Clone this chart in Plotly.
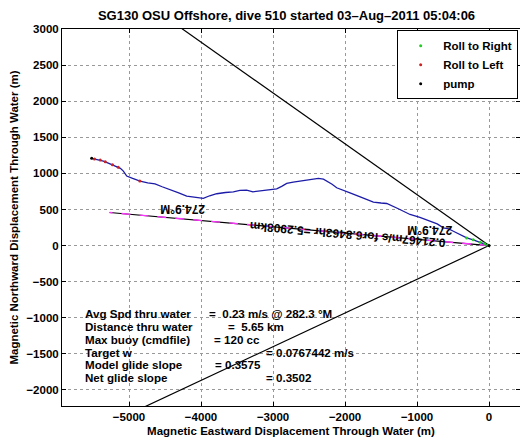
import plotly.graph_objects as go

# ---- data ----
track_x = [-5519, -5440, -5356, -5280, -5194, -5120, -5079, -5032, -4950, -4847, -4740, -4639, -4540, -4431,
           -4310, -4199, -4080, -3968, -3880, -3782, -3660, -3551, -3460, -3366, -3280, -3181, -3060, -2949,
           -2880, -2810, -2720, -2625, -2500, -2370, -2300, -2255, -2180, -2116, -2020, -1931, -1780, -1606,
           -1500, -1421, -1260, -1097, -960, -819, -720, -634, -560, -495, -400, -310, -220, -125, -50, 0]
track_y = [1208, 1195, 1171, 1140, 1102, 1070, 1032, 963, 930, 894, 870, 856, 815, 778,
           730, 685, 668, 653, 690, 718, 735, 745, 765, 769, 745, 755, 775, 787,
           820, 861, 880, 894, 905, 931, 920, 894, 850, 801, 770, 731, 670, 602,
           590, 583, 510, 431, 390, 338, 300, 245, 230, 199, 150, 106, 80, 46, 20, 0]

right_x = [-310, -220, -125, -60, -20]
right_y = [106, 80, 46, 25, 8]
left_x = [-5480, -5400, -5330, -5230, -5150, -4850]
left_y = [1200, 1185, 1160, 1120, 1085, 894]
pump_x = [-5519, 0]
pump_y = [1208, 0]

cone_up_x = [0, -4400]
cone_up_y = [0, 3100]
cone_dn_x = [0, -4900]
cone_dn_y = [0, -2288]

cur_x = [0, -5270]
cur_y = [0, 458]

x_ticks = [-5000, -4000, -3000, -2000, -1000, 0]
y_ticks = [-2000, -1500, -1000, -500, 0, 500, 1000, 1500, 2000, 2500, 3000]

title = "SG130 OSU Offshore, dive 510 started 03\u2013Aug\u20132011 05:04:06"
info_labels = ["Avg Spd thru water", "Distance thru water", "Max buoy (cmdfile)",
               "Target w", "Model glide slope", "Net glide slope"]
info_values = ["=\u00a0\u00a00.23 m/s @ 282.3 \u00b0M", "=\u00a0\u00a05.65 km", "= 120 cc",
               "= 0.0767442 m/s", "= 0.3575", "= 0.3502"]
info_label_x = -5646
info_value_x = [-3924, -3660, -3854, -3132, -3827, -3132]
info_y = [-944, -1121, -1297, -1474, -1650, -1826]

FONT = "Liberation Sans, Arial, sans-serif"

fig = go.Figure()
fig.add_trace(go.Scatter(x=cone_up_x, y=cone_up_y, mode="lines", line=dict(color="black", width=1.2),
                         showlegend=False, hoverinfo="skip"))
fig.add_trace(go.Scatter(x=cone_dn_x, y=cone_dn_y, mode="lines", line=dict(color="black", width=1.2),
                         showlegend=False, hoverinfo="skip"))
fig.add_trace(go.Scatter(x=cur_x, y=cur_y, mode="lines", line=dict(color="black", width=1.2),
                         showlegend=False, hoverinfo="skip"))
fig.add_trace(go.Scatter(x=cur_x, y=cur_y, mode="lines", line=dict(color="#ff33ff", width=1.4, dash="dash"),
                         showlegend=False, hoverinfo="skip"))
fig.add_trace(go.Scatter(x=track_x, y=track_y, mode="lines", line=dict(color="#1c1ca8", width=1.3),
                         showlegend=False))
fig.add_trace(go.Scatter(x=right_x, y=right_y, mode="markers", name="Roll to Right",
                         marker=dict(color="#22cc22", size=3)))
fig.add_trace(go.Scatter(x=left_x, y=left_y, mode="markers", name="Roll to Left",
                         marker=dict(color="#cc2222", size=3)))
fig.add_trace(go.Scatter(x=pump_x, y=pump_y, mode="markers", name="pump",
                         marker=dict(color="black", size=3)))

TXT = dict(size=12, color="black", family=FONT, weight="bold")
INFO = dict(size=11.6, color="black", family=FONT, weight="bold")
ann = []
ann.append(dict(x=-4250, y=514, text="274.9\u00b0M", textangle=180, showarrow=False, font=TXT))
ann.append(dict(x=-819, y=208, text="274.9\u00b0M", textangle=180, showarrow=False, font=TXT))
ann.append(dict(x=-1960, y=150, text="0.21467m/s for6.8463hr =5.2908km", textangle=-175, showarrow=False,
                font=TXT))
for lab, v, vx, yy in zip(info_labels, info_values, info_value_x, info_y):
    ann.append(dict(x=info_label_x, y=yy, text=lab, xanchor="left", showarrow=False, font=INFO))
    ann.append(dict(x=vx, y=yy, text=v, xanchor="left", showarrow=False, font=INFO))

axis_common = dict(showline=True, linecolor="black", linewidth=1, mirror="allticks",
                   ticks="inside", ticklen=4, tickcolor="black",
                   showgrid=True, gridcolor="#999999", griddash="dot", gridwidth=1,
                   zeroline=False, automargin=False,
                   tickfont=dict(size=11.5, color="black", family=FONT, weight="bold"))

fig.update_layout(
    width=520, height=434,
    margin=dict(l=54, r=8, t=21, b=36, autoexpand=False),
    paper_bgcolor="white", plot_bgcolor="white",
    title=dict(text=title, x=0.5356, xanchor="center", y=0.984, yanchor="middle", yref="container",
               font=dict(size=13, color="black", family=FONT, weight="bold"), automargin=False),
    xaxis=dict(range=[-5931, 430], tickvals=x_ticks, ticktext=[str(v).replace("-", "\u2212") for v in x_ticks],
               title=dict(text="Magnetic Eastward Displacement Through Water (m)", standoff=5,
                          font=dict(size=11.5, color="black", family=FONT, weight="bold")),
               **axis_common),
    yaxis=dict(range=[-2222, 3000], tickvals=y_ticks, ticktext=[str(v).replace("-", "\u2212") for v in y_ticks],
               title=dict(text="Magnetic Northward Displacement Through Water (m)", standoff=7,
                          font=dict(size=11.5, color="black", family=FONT, weight="bold")),
               **axis_common),
    legend=dict(x=0.996, xanchor="right", y=0.997, yanchor="top", bgcolor="white",
                bordercolor="black", borderwidth=1, itemwidth=35,
                font=dict(size=11.5, color="black", family=FONT, weight="bold"),
                itemsizing="trace", tracegroupgap=0),
    annotations=ann,
    showlegend=True,
)

fig.write_html("out.html")
